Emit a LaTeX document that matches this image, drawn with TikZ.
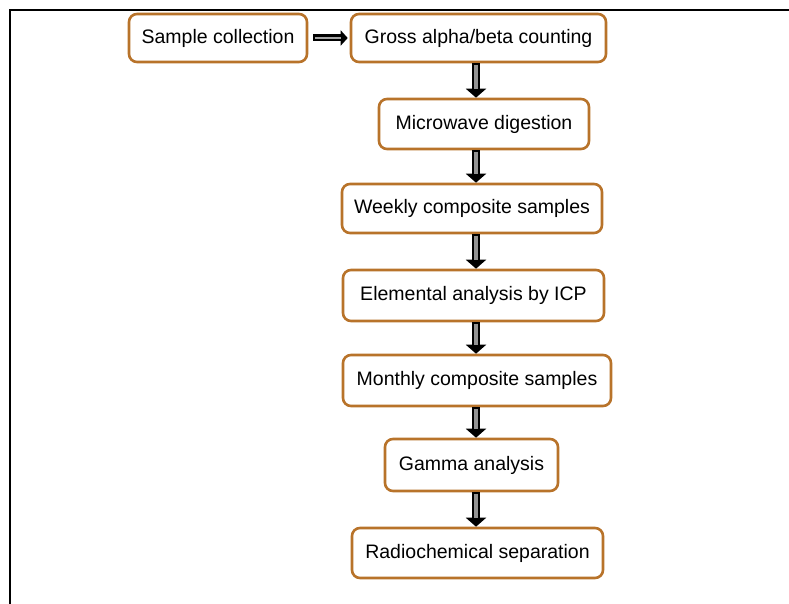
\documentclass[tikz,border=0pt]{standalone}
\usepackage{fontspec}
\setmainfont{Liberation Sans}
\usetikzlibrary{arrows.meta}
\definecolor{boxc}{HTML}{B8732A}
\tikzset{
  box/.style={draw=boxc, line width=2.6pt, rounded corners=8pt, fill=white,
    inner sep=0pt, font=\fontsize{19.5}{22}\selectfont},
  flowarrow/.style={line width=8pt, draw=black, -{Triangle[width=20pt,length=9pt]}},
  flowcore/.style={line width=3.6pt, draw=gray!85, shorten >=9pt, shorten <=1.6pt},
  harrow/.style={line width=7pt, draw=black, -{Triangle[width=15pt,length=7pt]}},
  hcore/.style={line width=2.6pt, draw=gray!70, shorten >=7pt, shorten <=1.6pt},
  frame/.style={line width=2pt, draw=black}
}
\begin{document}
\begin{tikzpicture}[x=1pt, y=-1pt]
\useasboundingbox (0,0) rectangle (789,604);
\draw[frame] (9.5,604) -- (9.5,10.5) -- (789,10.5);

\node[box, minimum width=178pt, minimum height=48pt] (s1) at (218,38) {Sample collection};
\node[box, minimum width=255pt, minimum height=48pt] (s2) at (478.5,38) {Gross alpha/beta counting};
\node[box, minimum width=210pt, minimum height=50pt] (s3) at (484,124) {Microwave digestion};
\node[box, minimum width=260pt, minimum height=49pt] (s4) at (472,208.5) {Weekly composite samples};
\node[box, minimum width=261pt, minimum height=51pt] (s5) at (473.5,295.5) {Elemental analysis by ICP};
\node[box, minimum width=268pt, minimum height=51pt] (s6) at (477,380.5) {Monthly composite samples};
\node[box, minimum width=173pt, minimum height=52pt] (s7) at (471.5,465) {Gamma analysis};
\node[box, minimum width=251pt, minimum height=50pt] (s8) at (477.5,553) {Radiochemical separation};

\coordinate (ax) at (476,0);

% horizontal arrow
\draw[harrow, shorten <=5pt, shorten >=2pt] (s1.east) -- (s2.west);
\draw[hcore, shorten <=6.6pt, shorten >=9pt] (s1.east) -- (s2.west);

% vertical arrows
\foreach \a/\b in {s2/s3, s3/s4, s4/s5, s5/s6, s6/s7, s7/s8} {
  \draw[flowarrow] (\a.south -| ax) -- (\b.north -| ax);
  \draw[flowcore] (\a.south -| ax) -- (\b.north -| ax);
}
\end{tikzpicture}
\end{document}
